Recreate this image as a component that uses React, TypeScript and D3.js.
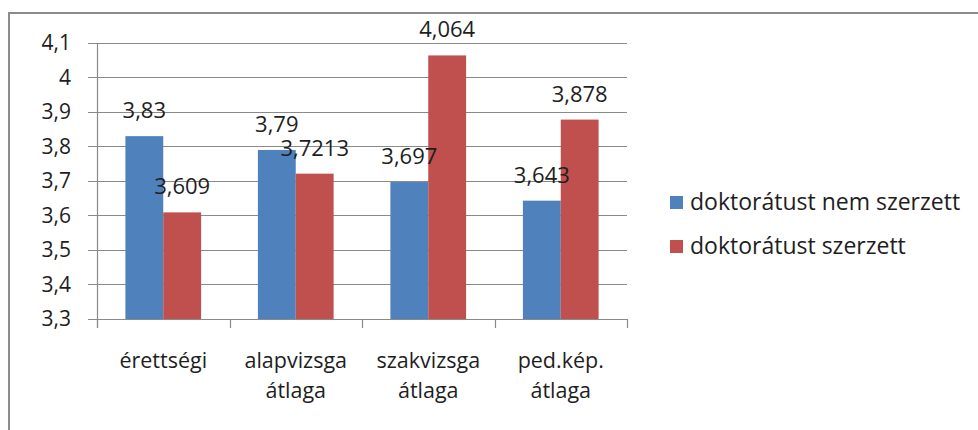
import { useEffect, useRef } from 'react';
import * as d3 from 'd3';

// categories (each entry is the label split into lines)
const categories = [
  ['érettségi'],
  ['alapvizsga', 'átlaga'],
  ['szakvizsga', 'átlaga'],
  ['ped.kép.', 'átlaga'],
];
const seriesNames = ['doktorátust nem szerzett', 'doktorátust szerzett'];
const nemSzerzett = [3.83, 3.79, 3.697, 3.643];
const szerzett = [3.609, 3.7213, 4.064, 3.878];
const valueLabelsNem = ['3,83', '3,79', '3,697', '3,643'];
const valueLabelsSz = ['3,609', '3,7213', '4,064', '3,878'];
const yTicks = [3.3, 3.4, 3.5, 3.6, 3.7, 3.8, 3.9, 4.0, 4.1];

const COLORS = ['#4f81bd', '#c0504d'];
const FONT = '"Open Sans", Lato, sans-serif';
const INK = '#1e1e1e';

export default function App() {
  const svgRef = useRef<SVGSVGElement | null>(null);

  useEffect(() => {
    if (!svgRef.current) return;
    const svg = d3.select(svgRef.current);
    svg.selectAll('*').remove();

    const width = 978;
    const height = 430;
    const plot = { left: 97, right: 627, top: 43, bottom: 319 };

    // outer frame (right and bottom edges fall outside the picture)
    svg.append('rect')
      .attr('x', 9).attr('y', 13)
      .attr('width', width + 20).attr('height', height + 20)
      .attr('fill', '#fff')
      .attr('stroke', '#8c8c8c')
      .attr('stroke-width', 2);

    const x = d3.scaleBand<number>()
      .domain(categories.map((_, i) => i))
      .range([plot.left, plot.right]);

    const y = d3.scaleLinear()
      .domain([3.3, 4.1])
      .range([plot.bottom, plot.top]);

    // bar layout like Excel (gap width 150%)
    const barW = x.bandwidth() / 3.5;
    const inner = d3.scaleBand<number>()
      .domain([0, 1])
      .range([0.75 * barW, 0.75 * barW + 2 * barW]);

    // gridlines + y ticks
    svg.append('g')
      .selectAll('line')
      .data(yTicks)
      .join('line')
      .attr('x1', plot.left - 9)
      .attr('x2', plot.right)
      .attr('y1', d => Math.round(y(d)) + 0.5)
      .attr('y2', d => Math.round(y(d)) + 0.5)
      .attr('stroke', '#8a8a8a')
      .attr('stroke-width', 1.2);

    svg.append('g')
      .selectAll('text')
      .data(yTicks)
      .join('text')
      .attr('x', 71)
      .attr('y', d => y(d))
      .attr('dy', '0.35em')
      .attr('text-anchor', 'end')
      .style('font-family', FONT)
      .style('font-size', '21px')
      .style('fill', INK)
      .text(d => d3.format('~g')(d).replace('.', ','));

    // y axis line
    svg.append('line')
      .attr('x1', plot.left + 0.5).attr('x2', plot.left + 0.5)
      .attr('y1', plot.top).attr('y2', plot.bottom + 9)
      .attr('stroke', '#8a8a8a').attr('stroke-width', 1.2);

    // category tick marks
    const bounds = categories.map((_, i) => x(i) as number).concat(plot.right);
    svg.append('g')
      .selectAll('line')
      .data(bounds)
      .join('line')
      .attr('x1', d => Math.round(d) + 0.5)
      .attr('x2', d => Math.round(d) + 0.5)
      .attr('y1', plot.bottom)
      .attr('y2', plot.bottom + 9)
      .attr('stroke', '#8a8a8a')
      .attr('stroke-width', 1.2);

    // bars
    const series = [nemSzerzett, szerzett];
    const labels = [valueLabelsNem, valueLabelsSz];
    series.forEach((vals, s) => {
      svg.append('g')
        .selectAll('rect')
        .data(vals)
        .join('rect')
        .attr('x', (_, i) => (x(i) as number) + (inner(s) as number))
        .attr('y', d => y(d))
        .attr('width', inner.bandwidth())
        .attr('height', d => plot.bottom - y(d))
        .attr('fill', COLORS[s]);
    });

    // value labels
    series.forEach((vals, s) => {
      svg.append('g')
        .selectAll('text')
        .data(vals)
        .join('text')
        .attr('x', (_, i) => (x(i) as number) + (inner(s) as number) + inner.bandwidth() / 2)
        .attr('y', d => y(d) - 18)
        .attr('text-anchor', 'middle')
        .style('font-family', FONT)
        .style('font-size', '22px')
        .style('fill', INK)
        .text((_, i) => labels[s][i]);
    });

    // category labels
    const cat = svg.append('g')
      .selectAll('text')
      .data(categories)
      .join('text')
      .attr('x', (_, i) => (x(i) as number) + x.bandwidth() / 2)
      .attr('y', 368)
      .attr('text-anchor', 'middle')
      .style('font-family', FONT)
      .style('font-size', '21.5px')
      .style('fill', INK);
    cat.selectAll('tspan')
      .data(d => d)
      .join('tspan')
      .attr('x', function () {
        return (this.parentNode as SVGTextElement).getAttribute('x');
      })
      .attr('dy', (_, j) => (j === 0 ? 0 : 30))
      .text(d => d);

    // legend
    const legend = svg.append('g')
      .selectAll('g')
      .data(seriesNames)
      .join('g')
      .attr('transform', (_, i) => `translate(670,${196 + i * 44})`);
    legend.append('rect')
      .attr('width', 13).attr('height', 13)
      .attr('fill', (_, i) => COLORS[i]);
    legend.append('text')
      .attr('x', 20)
      .attr('y', 14)
      .style('font-family', FONT)
      .style('font-size', '23px')
      .style('fill', INK)
      .text(d => d);
  }, []);

  return (
    <div style={{ position: 'fixed', left: 0, top: 0, width: 978, height: 430, background: '#fff' }}>
      <svg ref={svgRef} width={978} height={430} style={{ display: 'block' }} />
    </div>
  );
}
